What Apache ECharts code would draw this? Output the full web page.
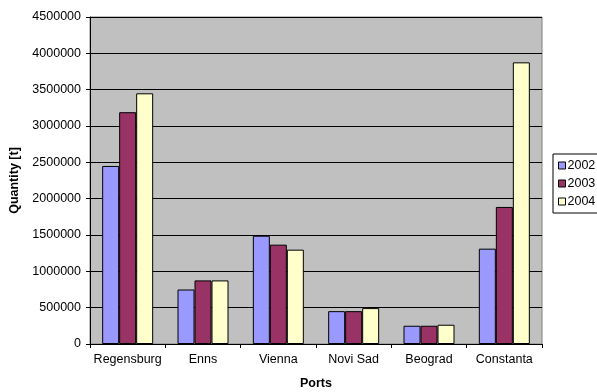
<!DOCTYPE html>
<html>
<head>
<meta charset="utf-8">
<script src="https://cdn.jsdelivr.net/npm/echarts@6/dist/echarts.min.js"></script>
<style>
  html, body { margin: 0; padding: 0; background: #fff; }
  #chart { width: 597px; height: 392px; }
</style>
</head>
<body>
<div id="chart"></div>
<script>
// ports along the x axis
const ports = ['Regensburg', 'Enns', 'Vienna', 'Novi Sad', 'Beograd', 'Constanta'];
const years = ['2002', '2003', '2004'];
// quantities in tonnes
const q2002 = [2450000, 750000, 1490000, 452000, 251000, 1312000];
const q2003 = [3190000, 875000, 1367000, 452000, 251000, 1886000];
const q2004 = [3450000, 875000, 1298000, 494000, 265000, 3876000];
const colors = ['#9999FF', '#993366', '#FFFFCC'];

const font = 'Liberation Sans, Arial, sans-serif';
const fs = 12.5;
const chart = echarts.init(document.getElementById('chart'));

const mk = (name, data, i) => ({
  name: name,
  type: 'bar',
  data: data,
  barWidth: 17,
  barGap: '0%',
  itemStyle: { color: colors[i], borderColor: '#000', borderWidth: 1 },
  animation: false
});

chart.setOption({
  backgroundColor: '#fff',
  animation: false,
  grid: {
    left: 90, right: 55, top: 17, bottom: 48,
    containLabel: false,
    outerBoundsMode: 'none',
    show: true,
    backgroundColor: '#C0C0C0',
    borderColor: '#808080',
    borderWidth: 1
  },
  legend: {
    orient: 'vertical',
    left: 553, top: 154,
    itemWidth: 7, itemHeight: 7, itemGap: 5,
    icon: 'rect',
    padding: [5, 10, 5, 5],
    borderColor: '#000', borderWidth: 1,
    textStyle: { fontFamily: font, fontSize: fs, color: '#000', padding: [0, 0, 0, -3] },
    itemStyle: { borderColor: '#000', borderWidth: 1 },
    data: years
  },
  xAxis: {
    type: 'category',
    data: ports,
    name: 'Ports',
    nameLocation: 'middle',
    nameGap: 33,
    nameTextStyle: { fontFamily: font, fontSize: fs, fontWeight: 'bold', color: '#000' },
    axisLine: { lineStyle: { color: '#000', width: 1 } },
    axisTick: { show: true, length: 4, inside: false, lineStyle: { color: '#000' } },
    axisLabel: { fontFamily: font, fontSize: fs, color: '#000', margin: 9, interval: 0 }
  },
  yAxis: {
    type: 'value',
    min: 0, max: 4500000, interval: 500000,
    name: 'Quantity [t]',
    nameLocation: 'middle',
    nameGap: 68,
    nameTextStyle: { fontFamily: font, fontSize: fs, fontWeight: 'bold', color: '#000' },
    axisLine: { show: true, lineStyle: { color: '#000', width: 1 } },
    axisTick: { show: true, length: 4, lineStyle: { color: '#000' } },
    axisLabel: { fontFamily: font, fontSize: fs, color: '#000', margin: 9, formatter: v => String(v) },
    splitLine: { show: true, lineStyle: { color: '#000', width: 1 } }
  },
  series: [mk('2002', q2002, 0), mk('2003', q2003, 1), mk('2004', q2004, 2)]
});
</script>
</body>
</html>
